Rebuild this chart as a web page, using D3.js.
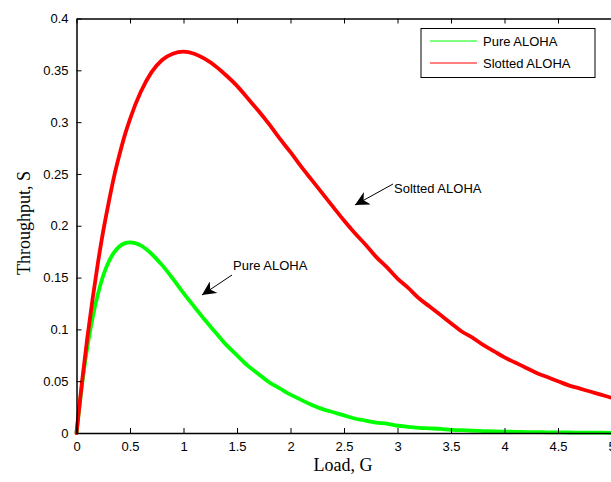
<!DOCTYPE html>
<html>
<head>
<meta charset="utf-8">
<script src="https://cdn.jsdelivr.net/npm/d3@7"></script>
<style>
  body { margin: 0; background: #fff; }
  svg { display: block; }
  .tick text { font-family: "Liberation Sans", Arial, sans-serif; font-size: 13px; fill: #000; }
</style>
</head>
<body>
<div id="chart"></div>
<script>
const width = 611;
const height = 482;

// load G values
const loadG = [0, 0.05, 0.1, 0.15, 0.2, 0.25, 0.3, 0.35, 0.4, 0.45, 0.5, 0.6, 0.7, 0.8, 0.9, 1.0,
  1.1, 1.2, 1.3, 1.4, 1.5, 1.6, 1.7, 1.8, 1.9, 2.0, 2.1, 2.2, 2.3, 2.4, 2.5, 2.6, 2.7, 2.8, 2.9, 3.0,
  3.1, 3.2, 3.3, 3.4, 3.5, 3.6, 3.7, 3.8, 3.9, 4.0, 4.1, 4.2, 4.3, 4.4, 4.5, 4.6, 4.7, 4.8, 4.9, 5.0];

const pureS = [0, 0.045, 0.082, 0.111, 0.134, 0.152, 0.165, 0.174, 0.180, 0.183, 0.184, 0.181, 0.173, 0.162, 0.149, 0.135,
  0.122, 0.109, 0.097, 0.085, 0.075, 0.065, 0.057, 0.049, 0.043, 0.037, 0.032, 0.027, 0.023, 0.020, 0.017, 0.014, 0.012, 0.010, 0.009, 0.007,
  0.006, 0.005, 0.0045, 0.004, 0.003, 0.0027, 0.0022, 0.0019, 0.0016, 0.0013, 0.0011, 0.0009, 0.0008, 0.0007, 0.0006, 0.0005, 0.0004, 0.0003, 0.0003, 0.0002];

const slottedS = [0, 0.048, 0.091, 0.129, 0.164, 0.195, 0.222, 0.247, 0.268, 0.287, 0.303, 0.329, 0.348, 0.360, 0.366, 0.368,
  0.366, 0.361, 0.354, 0.345, 0.335, 0.323, 0.311, 0.298, 0.284, 0.271, 0.257, 0.244, 0.231, 0.218, 0.205, 0.193, 0.182, 0.170, 0.160, 0.149,
  0.140, 0.130, 0.122, 0.114, 0.106, 0.098, 0.092, 0.085, 0.079, 0.073, 0.068, 0.063, 0.058, 0.054, 0.050, 0.046, 0.043, 0.040, 0.037, 0.034];

const xTicks = [0, 0.5, 1, 1.5, 2, 2.5, 3, 3.5, 4, 4.5, 5];
const yTicks = [0, 0.05, 0.1, 0.15, 0.2, 0.25, 0.3, 0.35, 0.4];

const seriesNames = ["Pure ALOHA", "Slotted ALOHA"];
const seriesColors = ["#00ff00", "#ff0000"];

const margin = { left: 76.5, top: 18.5, right: 0, bottom: 49 };

const x = d3.scaleLinear().domain([0, 5]).range([margin.left, 611.5]);
const y = d3.scaleLinear().domain([0, 0.4]).range([433, margin.top]);

const svg = d3.select("#chart")
  .append("svg")
  .attr("width", width)
  .attr("height", height);

// curves first, axes on top like matlab
const line = d3.line()
  .x((d, i) => x(loadG[i]))
  .y(d => y(d))
  .curve(d3.curveMonotoneX);

[pureS, slottedS].forEach((vals, k) => {
  svg.append("path")
    .datum(vals)
    .attr("d", line)
    .attr("fill", "none")
    .attr("stroke", seriesColors[k])
    .attr("stroke-width", 3.8)
    .attr("stroke-linecap", "round")
    .attr("stroke-linejoin", "round");
});

// axes: ticks point inward
const xAxis = svg.append("g")
  .attr("transform", `translate(0,${y(0)})`)
  .call(d3.axisBottom(x).tickValues(xTicks).tickSizeInner(-5).tickSizeOuter(0).tickPadding(9)
    .tickFormat(d3.format("")));
const xTop = svg.append("g")
  .attr("transform", `translate(0,${y(0.4)})`)
  .call(d3.axisTop(x).tickValues(xTicks).tickSizeInner(-5).tickSizeOuter(0).tickFormat(""));
const yAxis = svg.append("g")
  .attr("transform", `translate(${x(0)},0)`)
  .call(d3.axisLeft(y).tickValues(yTicks).tickSizeInner(-5).tickSizeOuter(0).tickPadding(8)
    .tickFormat(d3.format("")));

[xAxis, xTop, yAxis].forEach(g => {
  g.selectAll(".domain").attr("stroke", "#000").attr("stroke-width", 1.5);
  g.selectAll(".tick line").attr("stroke", "#000");
});

// axis titles
svg.append("text")
  .attr("x", 343)
  .attr("y", 471)
  .attr("text-anchor", "middle")
  .style("font-family", "'Liberation Serif', 'Times New Roman', serif")
  .style("font-size", "18px")
  .text("Load, G");

svg.append("text")
  .attr("transform", "translate(30,223) rotate(-90)")
  .attr("text-anchor", "middle")
  .style("font-family", "'Liberation Serif', 'Times New Roman', serif")
  .style("font-size", "18px")
  .text("Throughput, S");

// legend
const legend = svg.append("g");
legend.append("rect")
  .attr("x", 421)
  .attr("y", 28.5)
  .attr("width", 174)
  .attr("height", 49)
  .attr("fill", "#fff")
  .attr("stroke", "#000")
  .attr("stroke-width", 1);

seriesNames.forEach((name, i) => {
  const ly = 41 + i * 22;
  legend.append("line")
    .attr("x1", 430).attr("x2", 477)
    .attr("y1", ly).attr("y2", ly)
    .attr("stroke", seriesColors[i])
    .attr("stroke-width", 1);
  legend.append("text")
    .attr("x", 483)
    .attr("y", ly + 4.5)
    .style("font-family", "'Liberation Sans', Arial, sans-serif")
    .style("font-size", "13px")
    .text(name);
});

// annotations with arrows
svg.append("defs").append("marker")
  .attr("id", "head")
  .attr("viewBox", "0 0 10 10")
  .attr("refX", 10).attr("refY", 5)
  .attr("markerWidth", 14).attr("markerHeight", 14)
  .attr("markerUnits", "userSpaceOnUse")
  .attr("orient", "auto")
  .append("path")
  .attr("d", "M0,0 L10,5 L0,10 L3,5 Z")
  .attr("fill", "#000");

const notes = [
  { text: "Soltted ALOHA", tx: 394, ty: 193, from: [393, 184], to: [355, 205] },
  { text: "Pure ALOHA", tx: 233, ty: 270, from: [232, 275], to: [202, 295] }
];

notes.forEach(n => {
  svg.append("line")
    .attr("x1", n.from[0]).attr("y1", n.from[1])
    .attr("x2", n.to[0]).attr("y2", n.to[1])
    .attr("stroke", "#000")
    .attr("stroke-width", 1)
    .attr("marker-end", "url(#head)");
  svg.append("text")
    .attr("x", n.tx)
    .attr("y", n.ty)
    .style("font-family", "'Liberation Sans', Arial, sans-serif")
    .style("font-size", "13px")
    .text(n.text);
});
</script>
</body>
</html>
